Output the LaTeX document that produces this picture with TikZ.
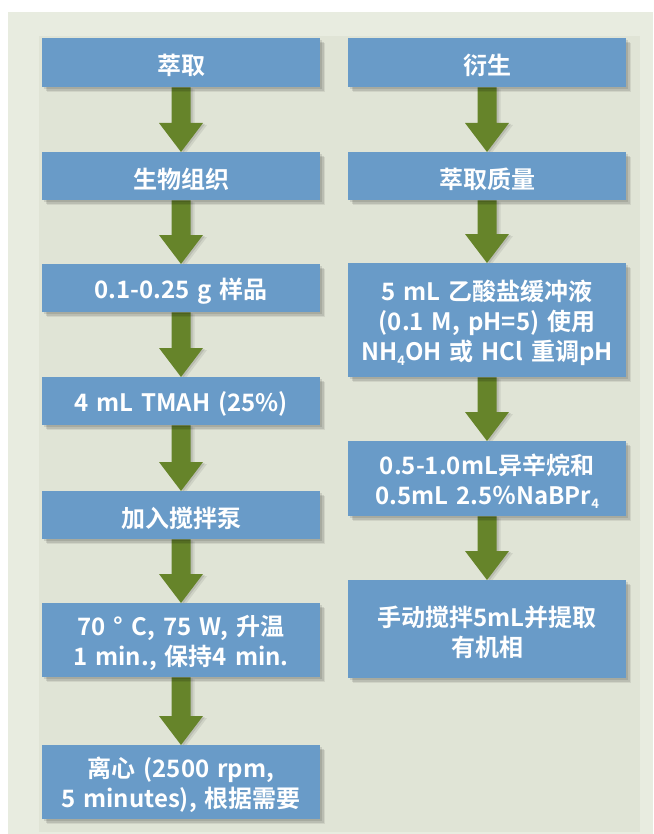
\documentclass[tikz,border=0pt]{standalone}
\usepackage{fontspec}
\setmainfont{Noto Sans CJK SC}[BoldFont={Noto Sans CJK SC Bold}]
\usetikzlibrary{shadows,calc}
\pgfdeclarelayer{bgzero}
\pgfdeclarelayer{arrlayer}
\pgfsetlayers{bgzero,arrlayer,main}
\definecolor{boxblue}{HTML}{699BC8}
\definecolor{arrgreen}{HTML}{66842A}
\definecolor{bgout}{HTML}{E8ECE0}
\definecolor{bgin}{HTML}{E0E4D6}
\newcommand\dn[1]{\raisebox{-0.35ex}{\fontsize{13}{13}\selectfont #1}}
\tikzset{
  softshadow/.style={
    general shadow={fill=black, opacity=0.10, shadow xshift=2pt, shadow yshift=-2pt},
    general shadow={fill=black, opacity=0.10, shadow xshift=3.5pt, shadow yshift=-3.5pt},
    general shadow={fill=black, opacity=0.07, shadow xshift=5pt, shadow yshift=-5pt}},
  stepbox/.style={fill=boxblue, text=white, font=\bfseries\fontsize{24}{30}\selectfont,
    minimum width=278pt, text width=274pt, align=center, anchor=north, inner sep=0pt,
    execute at begin node={\rule{0pt}{26pt}}, softshadow},
  arrowfill/.style={fill=arrgreen,
    general shadow={fill=black, opacity=0.10, shadow xshift=2pt, shadow yshift=-1pt},
    general shadow={fill=black, opacity=0.08, shadow xshift=4pt, shadow yshift=-2pt}},
}
\newcommand\flowarr[2]{%
  \path[arrowfill] let \p1=(#1.south), \p2=(#2.north) in
    ({\x1-9.5pt},{\y1}) -- ({\x1+9.5pt},{\y1}) -- ({\x1+9.5pt},{\y2+29pt}) --
    ({\x1+22pt},{\y2+29pt}) -- ({\x1},{\y2}) -- ({\x1-22pt},{\y2+29pt}) --
    ({\x1-9.5pt},{\y2+29pt}) -- cycle;}
\begin{document}
\begin{tikzpicture}[x=1pt,y=-1pt]
\useasboundingbox (0,0) rectangle (653,834);
\begin{pgfonlayer}{bgzero}
  \fill[white] (0,0) rectangle (653,834);
  \fill[bgout] (8,12) rectangle (653,834);
  \fill[bgin] (39,36) rectangle (640,832);
\end{pgfonlayer}
% left column
\node[stepbox, minimum height=49pt] (l1) at (181,38) {萃取};
\node[stepbox, minimum height=48pt] (l2) at (181,152) {生物组织};
\node[stepbox, minimum height=48pt] (l3) at (181,264) {0.1-0.25 g 样品};
\node[stepbox, minimum height=48pt] (l4) at (181,377) {4 mL TMAH (25\%)};
\node[stepbox, minimum height=48pt] (l5) at (181,491) {加入搅拌泵};
\node[stepbox, minimum height=74pt] (l6) at (181,603) {70 ° C, 75 W, 升温\\1 min., 保持4 min.};
\node[stepbox, minimum height=74pt] (l7) at (181,745) {离心 (2500 rpm,\\5 minutes), 根据需要};
% right column
\node[stepbox, minimum height=49pt] (r1) at (487,38) {衍生};
\node[stepbox, minimum height=48pt] (r2) at (487,152) {萃取质量};
\node[stepbox, minimum height=114pt] (r3) at (487,263) {5 mL 乙酸盐缓冲液\\(0.1 M, pH=5) 使用\\NH\dn{4}OH 或 HCl 重调pH};
\node[stepbox, minimum height=75pt] (r4) at (487,441) {0.5-1.0mL异辛烷和\\0.5mL 2.5％NaBPr\dn{4}};
\node[stepbox, minimum height=98pt] (r5) at (487,580) {手动搅拌5mL并提取\\有机相};
\begin{pgfonlayer}{arrlayer}
  \flowarr{l1}{l2}
  \flowarr{l2}{l3}
  \flowarr{l3}{l4}
  \flowarr{l4}{l5}
  \flowarr{l5}{l6}
  \flowarr{l6}{l7}
  \flowarr{r1}{r2}
  \flowarr{r2}{r3}
  \flowarr{r3}{r4}
  \flowarr{r4}{r5}
\end{pgfonlayer}
\end{tikzpicture}
\end{document}
